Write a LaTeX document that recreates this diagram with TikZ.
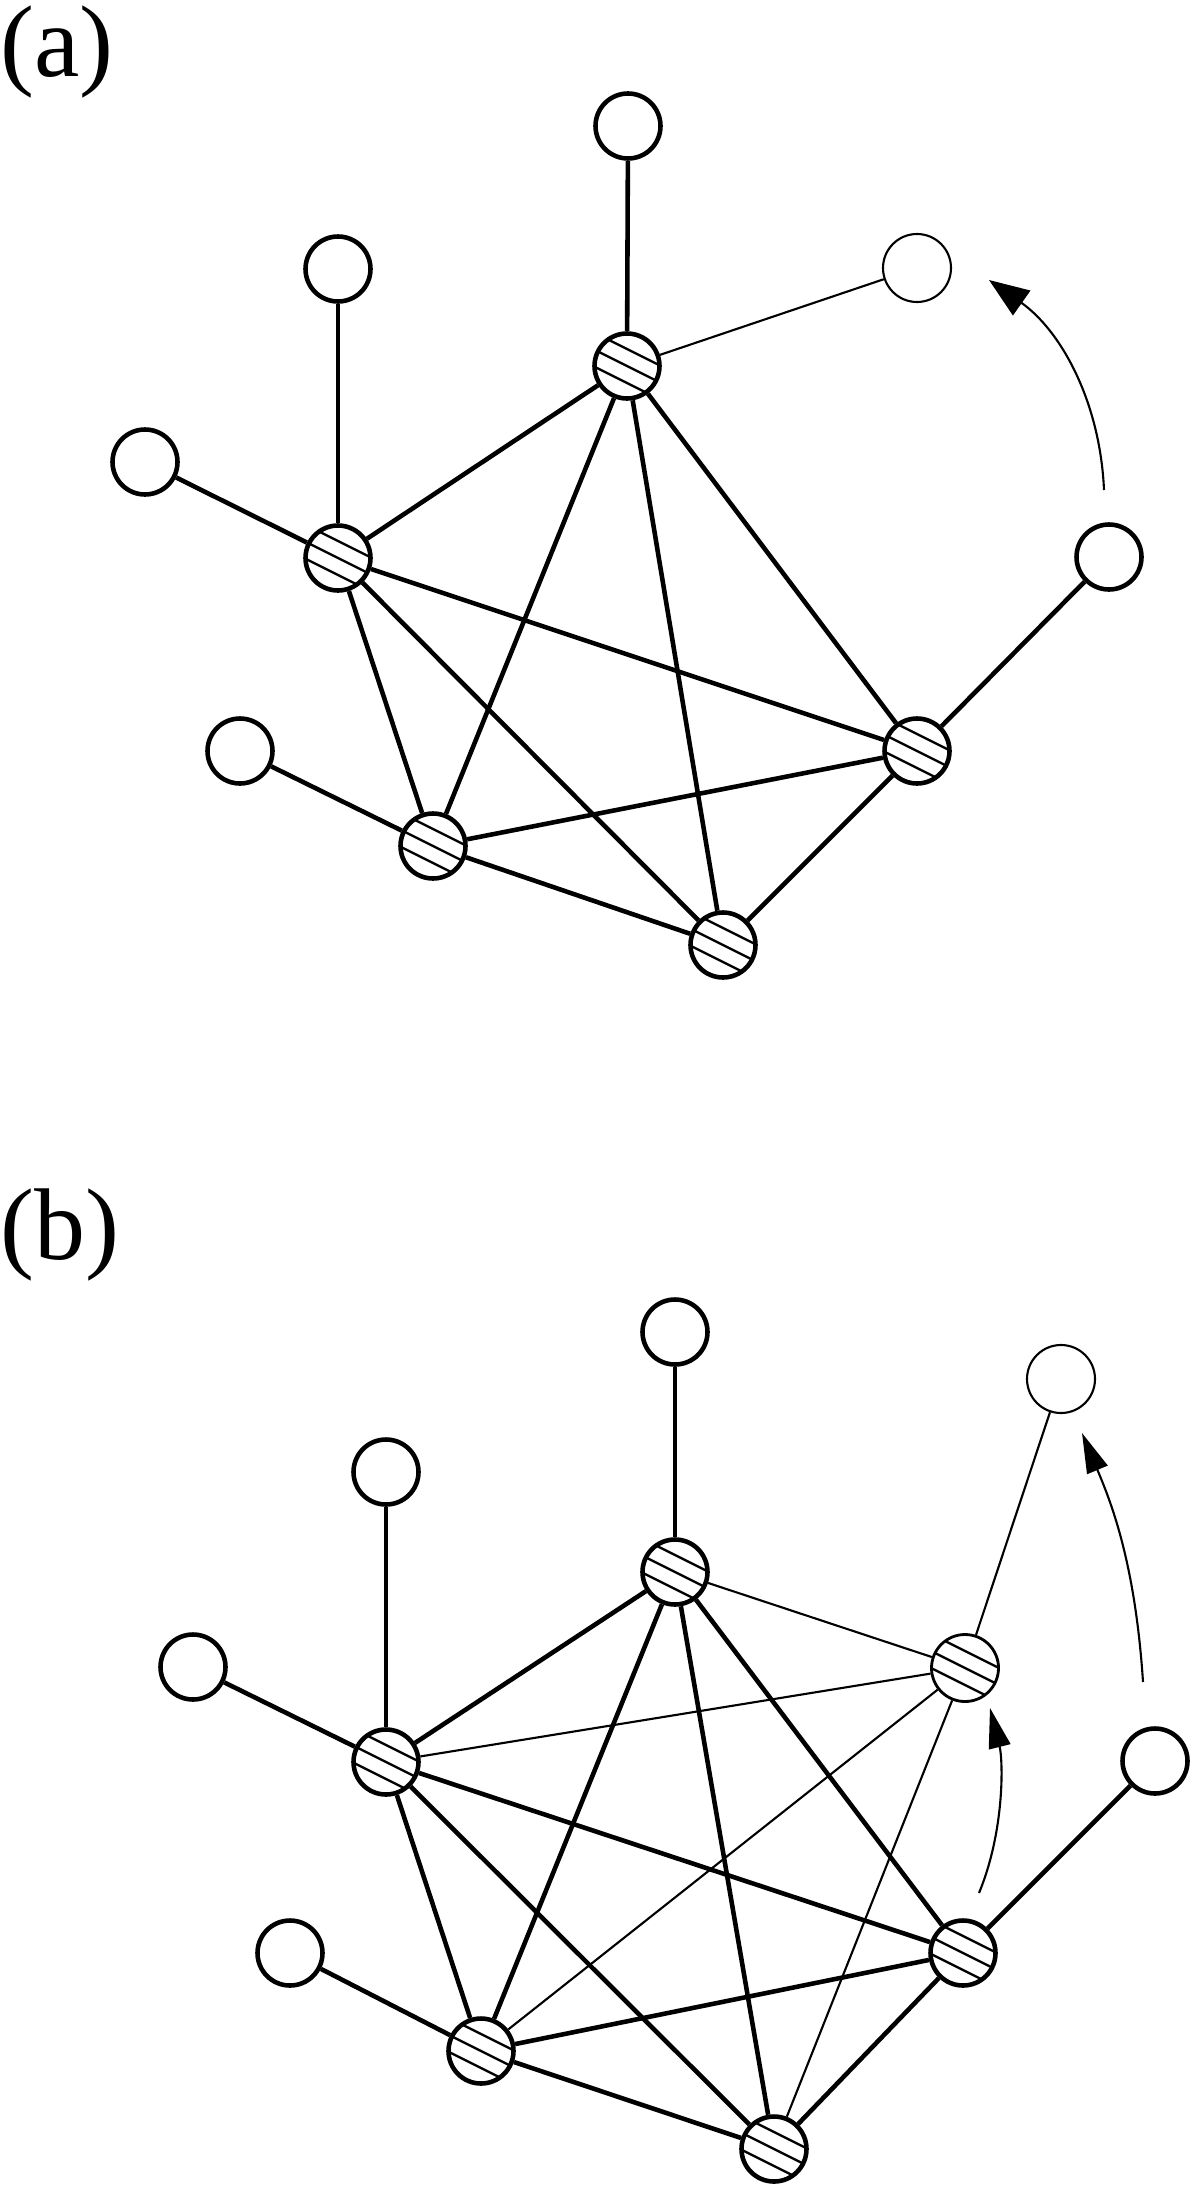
\documentclass[tikz,border=0pt]{standalone}
\usepackage{fontspec}
\setmainfont{Liberation Serif}
\usetikzlibrary{arrows.meta}
\begin{document}
\begin{tikzpicture}[x=0.1mm,y=-0.1mm,
        leaf/.style={circle,draw,line width=1.3pt,minimum size=6.5mm,inner sep=0pt},
        leafthin/.style={leaf,line width=0.6pt,minimum size=6.8mm},
        hub/.style={leaf,path picture={
            \foreach \dy in {3.7mm,2mm,0.3mm}
            {
                \draw[line width=0.65pt] ([xshift=-4mm,yshift=\dy]path picture bounding box.center) -- ++(8mm,-4mm);
            }}},
        hubthin/.style={hub,line width=0.8pt,minimum size=6.7mm},
        link/.style={line width=1.3pt},
        linkthin/.style={line width=0.6pt},
        move/.style={line width=0.6pt,-{Triangle[length=4mm,width=#1]}},
        lbl/.style={font=\fontsize{29}{32}\selectfont,anchor=base west,inner sep=0pt}]
        \useasboundingbox (0,0) rectangle (1200,2189);
        \node[lbl] (lbla) at (0,77) {(a)};
        \node[lbl] (lblb) at (0,1259) {(b)};

        \foreach \n/\px/\py in {1/627/366, 2/338/558, 3/917/751, 4/433/846, 5/723/945}
        {
            \node[hub] (a\n) at (\px,\py) {};
        }
        \foreach \i/\j in {1/2,1/3,1/4,1/5,2/3,2/4,2/5,3/4,3/5,4/5}
        {
            \draw[link] (a\i) -- (a\j);
        }
        \foreach \n/\px/\py/\h in {1/628/126/1, 2/338/269/2, 3/145/462/2, 4/240/751/4, 5/1109/557/3}
        {
            \node[leaf] (al\n) at (\px,\py) {};
            \draw[link] (al\n) -- (a\h);
        }
        \node[leafthin] (alt) at (917,268) {};
        \draw[linkthin] (alt) -- (a1);
        \coordinate (amfrom) at (1104,490);
        \coordinate (amto) at (989,280);
        \draw[move=3mm] (amfrom) .. controls (1100,400) and (1060,330) .. (amto);

        \foreach \n/\px/\py in {1/675/1572, 2/386/1762, 3/963/1953, 4/481/2051, 5/774/2149}
        {
            \node[hub] (b\n) at (\px,\py) {};
        }
        \node[hubthin] (b6) at (965,1668) {};
        \foreach \i/\j in {1/2,1/3,1/4,1/5,2/3,2/4,2/5,3/4,3/5,4/5}
        {
            \draw[link] (b\i) -- (b\j);
        }
        \foreach \j in {1,2,4,5}
        {
            \draw[linkthin] (b6) -- (b\j);
        }
        \foreach \n/\px/\py/\h in {1/675/1332/1, 2/386/1472/2, 3/193/1667/2, 4/290/1953/4, 5/1155/1761/3}
        {
            \node[leaf] (bl\n) at (\px,\py) {};
            \draw[link] (bl\n) -- (b\h);
        }
        \node[leafthin] (blt) at (1061,1379) {};
        \draw[linkthin] (blt) -- (b6);
        \coordinate (bmfrom) at (1143,1682);
        \coordinate (bmto) at (1082,1433);
        \draw[move=2.2mm] (bmfrom) .. controls (1135,1560) and (1110,1500) .. (bmto);
        \coordinate (bhfrom) at (979,1893);
        \coordinate (bhto) at (990,1708);
        \draw[move=2.2mm] (bhfrom) .. controls (1005,1830) and (1003,1760) .. (bhto);
    \end{tikzpicture}
\end{document}
